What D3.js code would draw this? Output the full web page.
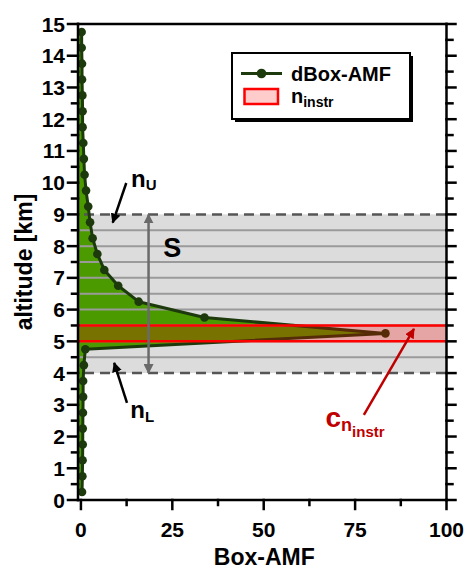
<!DOCTYPE html>
<html><head><meta charset="utf-8">
<script src="https://cdn.jsdelivr.net/npm/d3@7"></script>
<style>
html,body{margin:0;padding:0;background:#fff;}
svg{display:block;font-family:"Liberation Sans",Arial,sans-serif;}
</style></head>
<body>
<svg id="chart" width="470" height="569"></svg>
<script>
// ---- data ----
const altitudes = [0.25,0.75,1.25,1.75,2.25,2.75,3.25,3.75,4.25,4.75,5.25,5.75,6.25,6.75,7.25,7.75,8.25,8.75,9.25,9.75,10.25,10.75,11.25,11.75,12.25,12.75,13.25,13.75,14.25,14.75];
const dBoxAMF   = [0.3,0.4,0.45,0.5,0.5,0.55,0.6,0.6,0.8,1.2,83.3,33.8,15.8,10.2,6.4,4.5,3.2,2.5,2.0,1.4,1.0,0.8,0.65,0.45,0.45,0.4,0.3,0.3,0.2,0.2];
const xTicks = [0,25,50,75,100];
const xMinorTicks = [12.5,37.5,62.5,87.5];
const yTicks = [0,1,2,3,4,5,6,7,8,9,10,11,12,13,14,15];
const yMinorTicks = [0.5,1.5,2.5,3.5,4.5,5.5,6.5,7.5,8.5,9.5,10.5,11.5,12.5,13.5,14.5];
const sRange = [4, 9];            // sensitivity range S
const sGridLines = [4.5,5,5.5,6,6.5,7,7.5,8,8.5];
const nInstr = [5, 5.5];          // instrument layer
const xDomain = [-0.8, 100];
const yDomain = [0, 15];

// ---- layout ----
const svg = d3.select("#chart");
const L = 78, R = 446.5, T = 24, B = 500;
const x = d3.scaleLinear().domain(xDomain).range([L, R]);
const y = d3.scaleLinear().domain(yDomain).range([B, T]);

const GREEN_FILL = "#4b9a00", GREEN_LINE = "#1c3a0b";

// gray band S
svg.append("rect")
  .attr("x", x(xDomain[0])).attr("width", x(xDomain[1]) - x(xDomain[0]))
  .attr("y", y(sRange[1])).attr("height", y(sRange[0]) - y(sRange[1]))
  .attr("fill", "#dcdcdc");

// green area
const area = d3.area()
  .y(d => y(d[0]))
  .x0(x(xDomain[0]))
  .x1(d => x(d[1]));
const pts = altitudes.map((a, i) => [a, dBoxAMF[i]]);
svg.append("path").datum(pts)
  .attr("d", area.curve(d3.curveLinear))
  .attr("fill", GREEN_FILL);

// gray grid lines
svg.selectAll(".sg").data(sGridLines).join("line")
  .attr("x1", x(xDomain[0])).attr("x2", x(xDomain[1]))
  .attr("y1", d => y(d)).attr("y2", d => y(d))
  .attr("stroke", "#9a9a9a").attr("stroke-width", 2);

// dashed boundaries
svg.selectAll(".sd").data(sRange).join("line")
  .attr("x1", x(xDomain[0])).attr("x2", x(xDomain[1]))
  .attr("y1", d => y(d)).attr("y2", d => y(d))
  .attr("stroke", "#555").attr("stroke-width", 2.5)
  .attr("stroke-dasharray", "10,6").attr("stroke-dashoffset", -6);

// curve
const line = d3.line().y(d => y(d[0])).x(d => x(d[1]));
svg.append("path").datum(pts)
  .attr("d", line)
  .attr("fill", "none").attr("stroke", GREEN_LINE).attr("stroke-width", 3)
  .attr("stroke-linejoin", "round");
svg.selectAll(".pt").data(pts).join("circle")
  .attr("cx", d => x(d[1])).attr("cy", d => y(d[0])).attr("r", 4.3)
  .attr("fill", GREEN_LINE);

// instrument layer band
svg.append("rect")
  .attr("x", x(xDomain[0])).attr("width", x(xDomain[1]) - x(xDomain[0]))
  .attr("y", y(nInstr[1])).attr("height", y(nInstr[0]) - y(nInstr[1]))
  .attr("fill", "rgba(255,0,0,0.25)");
svg.selectAll(".rl").data(nInstr).join("line")
  .attr("x1", x(xDomain[0])).attr("x2", x(xDomain[1]))
  .attr("y1", d => y(d)).attr("y2", d => y(d))
  .attr("stroke", "#ff0000").attr("stroke-width", 2.5);

// ---- axes ----
const axisG = svg.append("g").attr("stroke", "#000").attr("stroke-width", 2.5).attr("stroke-linecap", "square");
axisG.append("line").attr("x1", L).attr("x2", L).attr("y1", T).attr("y2", B);
axisG.append("line").attr("x1", R).attr("x2", R).attr("y1", T).attr("y2", B);
axisG.append("line").attr("x1", L).attr("x2", R).attr("y1", T).attr("y2", T);
axisG.append("line").attr("x1", L).attr("x2", R).attr("y1", B).attr("y2", B);
axisG.selectAll(".lt").data(yTicks).join("line")
  .attr("x1", L - 10).attr("x2", L).attr("y1", d => y(d)).attr("y2", d => y(d));
axisG.selectAll(".lmt").data(yMinorTicks).join("line")
  .attr("x1", L - 6).attr("x2", L).attr("y1", d => y(d)).attr("y2", d => y(d));
axisG.selectAll(".rt").data(yTicks).join("line")
  .attr("x1", R).attr("x2", R + 9).attr("y1", d => y(d)).attr("y2", d => y(d));
axisG.selectAll(".rmt").data(yMinorTicks).join("line")
  .attr("x1", R).attr("x2", R + 6).attr("y1", d => y(d)).attr("y2", d => y(d));
axisG.selectAll(".bt").data(xTicks).join("line")
  .attr("x1", d => x(d)).attr("x2", d => x(d)).attr("y1", B).attr("y2", B + 9);
axisG.selectAll(".bmt").data(xMinorTicks).join("line")
  .attr("x1", d => x(d)).attr("x2", d => x(d)).attr("y1", B).attr("y2", B + 5);

// tick labels
svg.selectAll(".yl").data(yTicks).join("text")
  .attr("x", L - 13).attr("y", d => y(d)).attr("dy", "0.36em")
  .attr("text-anchor", "end").attr("font-size", 21).attr("font-weight", "bold")
  .text(d => d);
svg.selectAll(".xl").data(xTicks).join("text")
  .attr("x", d => x(d)).attr("y", B + 36.5)
  .attr("text-anchor", "middle").attr("font-size", 21).attr("font-weight", "bold")
  .text(d => d);

// axis titles
svg.append("text").attr("x", (L + R) / 2 + 2).attr("y", 565)
  .attr("text-anchor", "middle").attr("font-size", 23).attr("font-weight", "bold")
  .text("Box-AMF");
svg.append("text").attr("transform", `translate(32,${(T + B) / 2}) rotate(-90)`)
  .attr("text-anchor", "middle").attr("font-size", 23).attr("font-weight", "bold")
  .text("altitude [km]");

// ---- legend ----
const lg = svg.append("g");
lg.append("rect").attr("x", 235).attr("y", 56).attr("width", 178).attr("height", 66).attr("fill", "#000");
lg.append("rect").attr("x", 232).attr("y", 53).attr("width", 178).attr("height", 66)
  .attr("fill", "#fff").attr("stroke", "#000").attr("stroke-width", 2);
lg.append("line").attr("x1", 241).attr("x2", 282).attr("y1", 73.5).attr("y2", 73.5)
  .attr("stroke", GREEN_LINE).attr("stroke-width", 3);
lg.append("circle").attr("cx", 261.5).attr("cy", 73.5).attr("r", 4.8).attr("fill", GREEN_LINE);
lg.append("text").attr("x", 291).attr("y", 80.5).attr("font-size", 20).attr("font-weight", "bold").text("dBox-AMF");
lg.append("rect").attr("x", 244.5).attr("y", 89).attr("width", 33.5).attr("height", 15)
  .attr("fill", "#ffcccc").attr("stroke", "#ff0000").attr("stroke-width", 2.5);
const lt = lg.append("text").attr("x", 291).attr("y", 103).attr("font-weight", "bold");
lt.append("tspan").attr("font-size", 20).text("n");
lt.append("tspan").attr("font-size", 14).attr("dy", 4).text("instr");

// ---- annotations (data coordinates) ----
const defs = svg.append("defs");
function marker(id, color) {
  defs.append("marker").attr("id", id).attr("viewBox", "0 0 10 10")
    .attr("refX", 9).attr("refY", 5).attr("markerWidth", 4).attr("markerHeight", 4)
    .attr("orient", "auto-start-reverse")
    .append("path").attr("d", "M0,0 L10,5 L0,10 z").attr("fill", color);
}
marker("ahB", "#000"); marker("ahG", "#6a6a6a"); marker("ahR", "#c00000");

function arrow(from, to, color, id, both) {
  const l = svg.append("line")
    .attr("x1", x(from[0])).attr("y1", y(from[1]))
    .attr("x2", x(to[0])).attr("y2", y(to[1]))
    .attr("stroke", color).attr("stroke-width", 2.5)
    .attr("marker-end", `url(#${id})`);
  if (both) l.attr("marker-start", `url(#${id})`);
}
arrow([18.5, sRange[1]], [18.5, sRange[0]], "#6a6a6a", "ahG", true);
svg.append("text").attr("x", x(22.5)).attr("y", y(7.66))
  .attr("font-size", 27).attr("font-weight", "bold").text("S");

arrow([12.4, 9.99], [8.7, 8.74], "#000", "ahB");
const nu = svg.append("text").attr("x", x(13.7)).attr("y", y(9.86)).attr("font-weight", "bold");
nu.append("tspan").attr("font-size", 24).text("n");
nu.append("tspan").attr("font-size", 15).attr("dy", 3).text("U");

arrow([12.6, 3.06], [9.1, 4.32], "#000", "ahB");
const nl = svg.append("text").attr("x", x(13.5)).attr("y", y(2.58)).attr("font-weight", "bold");
nl.append("tspan").attr("font-size", 24).text("n");
nl.append("tspan").attr("font-size", 15).attr("dy", 4).text("L");

arrow([77.4, 2.68], [91.1, 5.39], "#c00000", "ahR");
const cl = svg.append("text").attr("x", x(66.9)).attr("y", y(2.3)).attr("font-weight", "bold").attr("fill", "#c00000");
cl.append("tspan").attr("font-size", 28).text("c");
cl.append("tspan").attr("font-size", 18).attr("dy", 4).text("n");
cl.append("tspan").attr("font-size", 15).attr("dy", 6).text("instr");
</script>
</body></html>
